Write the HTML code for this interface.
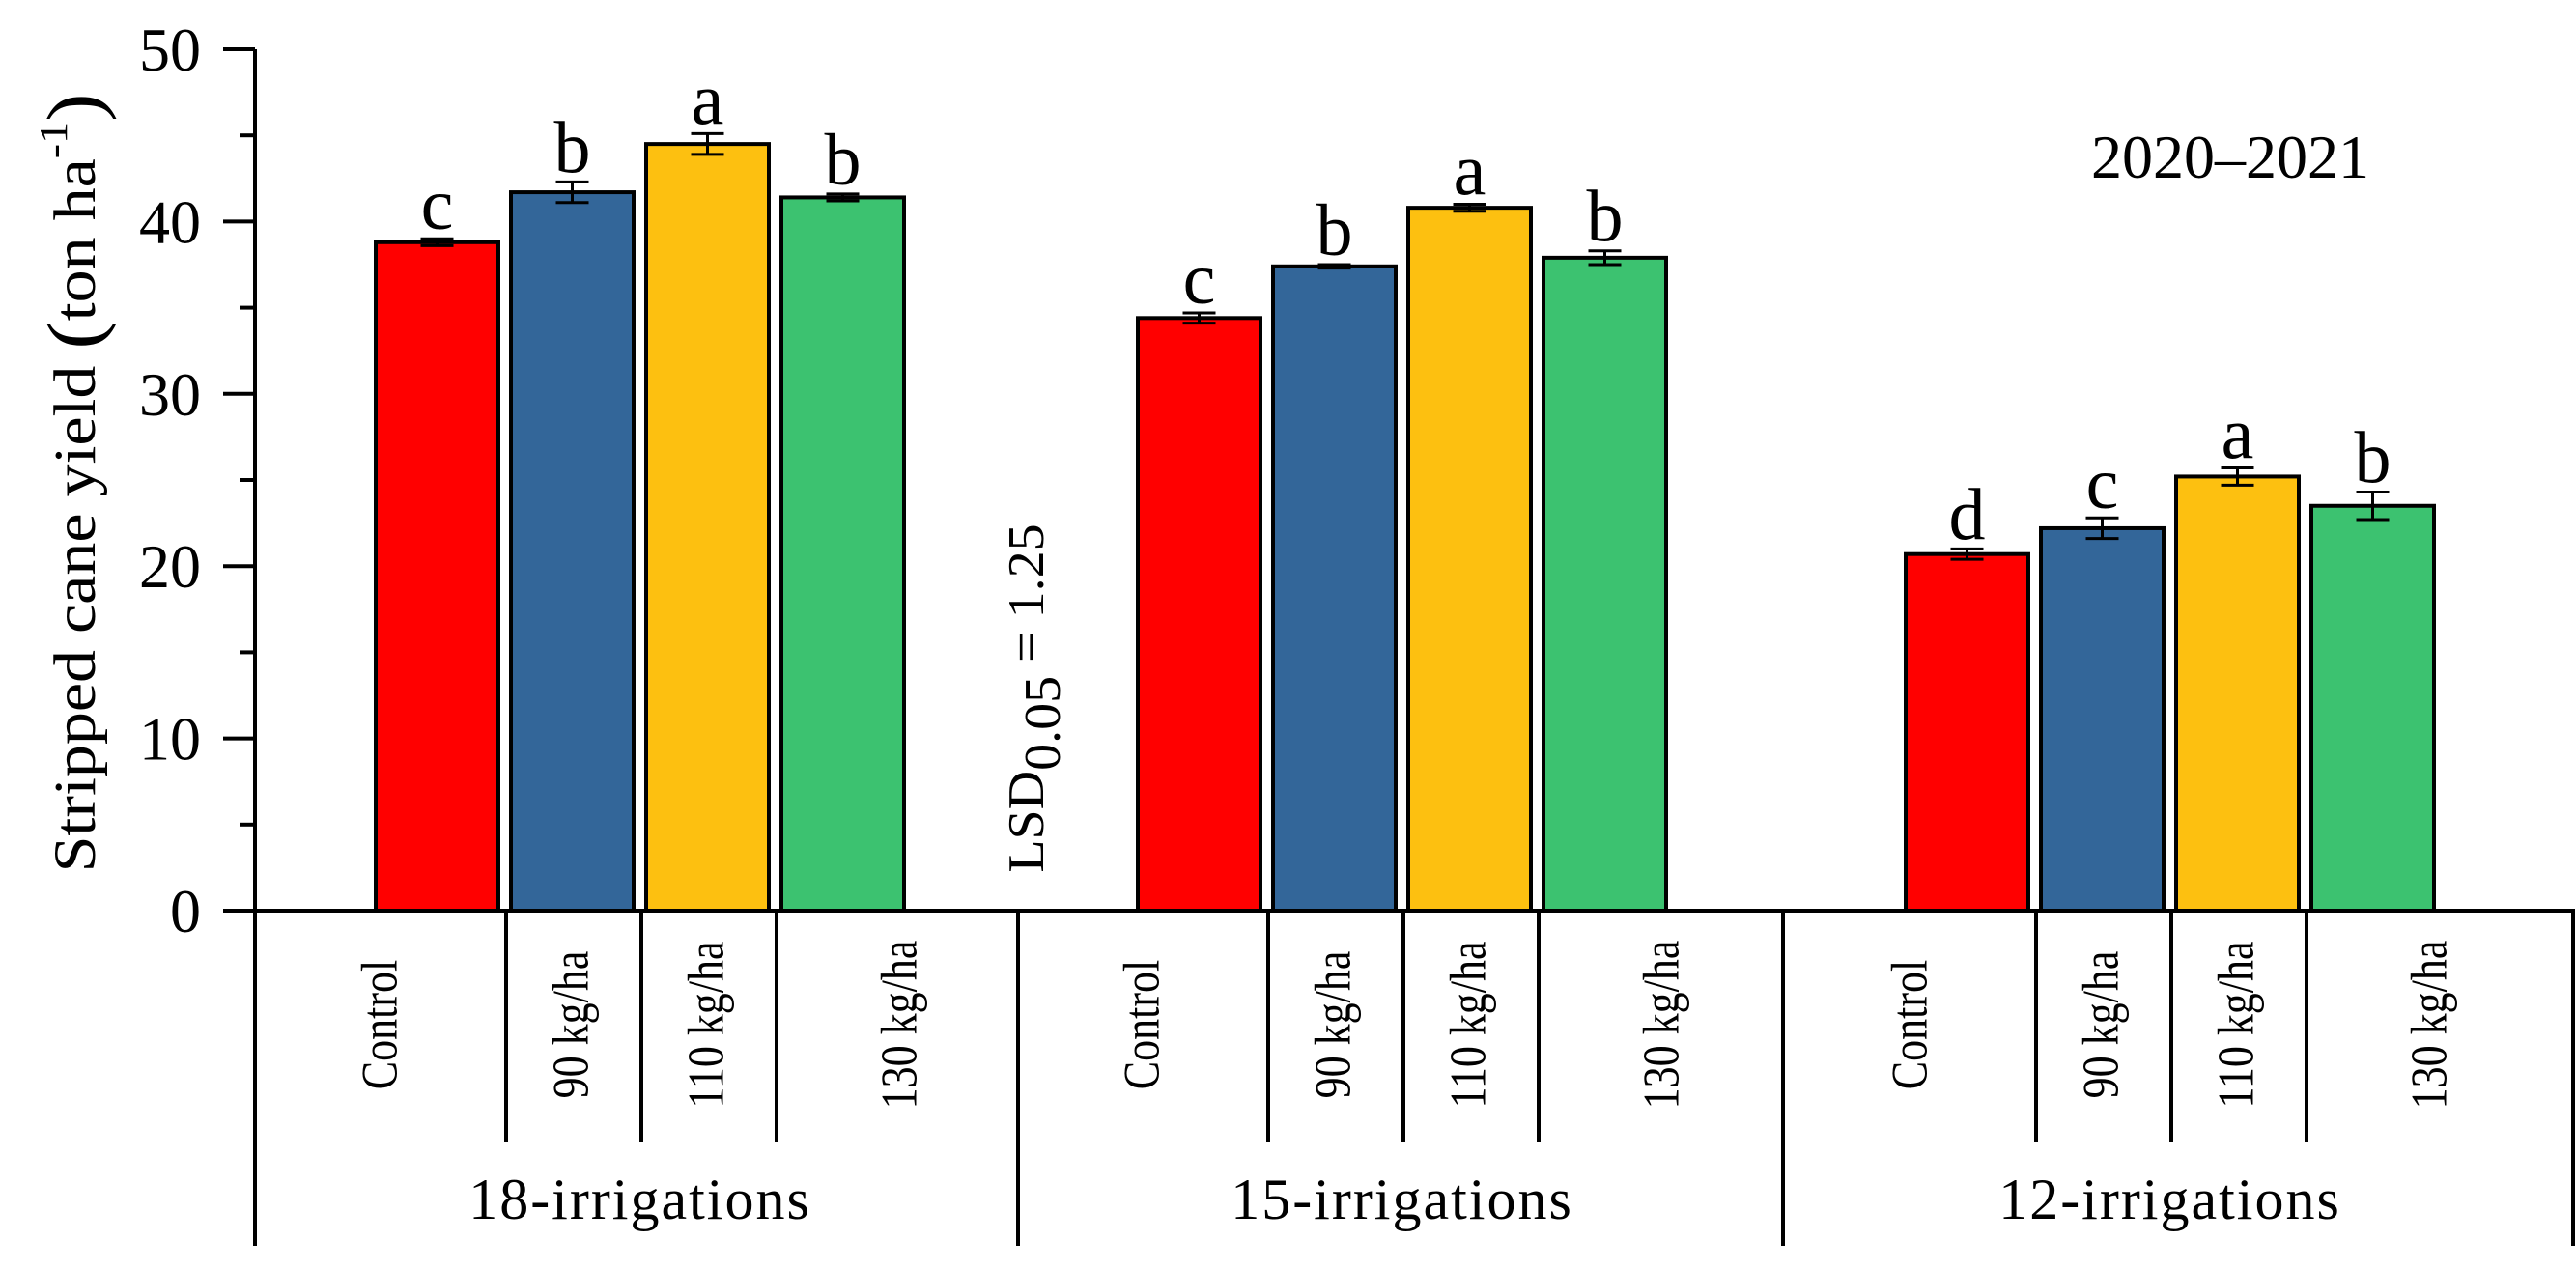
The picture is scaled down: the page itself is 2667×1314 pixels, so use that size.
<!DOCTYPE html>
<html><head><meta charset="utf-8"><style>
html,body{margin:0;padding:0;background:#fff;}
svg{display:block;font-family:"Liberation Serif",serif;}
</style></head><body>
<svg id="chart" width="2667" height="1314" viewBox="0 0 2667 1314" xmlns="http://www.w3.org/2000/svg">
<g id="axes"></g>
<g id="bars"></g>
<g id="labels"></g>
<text transform="translate(98,500) rotate(-90) scale(1,0.9)" text-anchor="middle" font-size="68" fill="#000">Stripped cane yield <tspan font-size="88" dy="6">(</tspan><tspan dy="-6">ton ha</tspan><tspan font-size="46" dy="-32">-1</tspan><tspan font-size="88" dy="38">)</tspan></text>
<text x="2309" y="184" text-anchor="middle" font-size="64" fill="#000">2020–2021</text>
<text transform="translate(1080,723) rotate(-90) scale(1,0.95)" text-anchor="middle" font-size="56" fill="#000">LSD<tspan font-size="56" dy="18">0.05</tspan><tspan dy="-18"> = 1.25</tspan></text>
</svg>
<script>
const groups = ["18-irrigations","15-irrigations","12-irrigations"];
const treatments = ["Control","90 kg/ha","110 kg/ha","130 kg/ha"];
const values = [[38.8,41.7,44.5,41.4],[34.4,37.4,40.8,37.9],[20.7,22.2,25.2,23.5]];
const errors = [[0.2,0.6,0.6,0.2],[0.3,0.1,0.2,0.4],[0.3,0.6,0.5,0.8]];
const letters = [["c","b","a","b"],["c","b","a","b"],["d","c","a","b"]];
const yTicks = [0,10,20,30,40,50];
const colors = ["#ff0000","#336699","#fdc010","#3cc270"];

const NS="http://www.w3.org/2000/svg";
const y0=943, yTop=51, yMax=50;
function y(v){return y0-(v/yMax)*(y0-yTop);}
const groupStart=[389,1178,1973], barPitch=140, barW=127;
function barX(g,i){return groupStart[g]+i*barPitch;}
function mk(tag,attrs,parent){const e=document.createElementNS(NS,tag);for(const k in attrs)e.setAttribute(k,attrs[k]);parent.appendChild(e);return e;}
const axes=document.getElementById('axes'), bars=document.getElementById('bars'), labels=document.getElementById('labels');

let l=mk('line',{x1:264,y1:y(yMax),x2:264,y2:1290,stroke:'#000','stroke-width':4},axes);


l=mk('line',{x1:231,y1:y0,x2:2666,y2:y0,stroke:'#000','stroke-width':4},axes);


yTicks.forEach(t=>{
  let tk=mk('line',{x1:231,y1:y(t),x2:264,y2:y(t),stroke:'#000','stroke-width':4},axes);
  
  
  let tx=mk('text',{x:208,y:y(t)+22,'text-anchor':'end','font-size':64},axes);
  tx.textContent=t;
  
  
  if(t<yMax){
    let m=mk('line',{x1:248,y1:y(t+5),x2:264,y2:y(t+5),stroke:'#000','stroke-width':4},axes);
    
    
  }
});
[1054,1846,2664].forEach(x=>{
  let s=mk('line',{x1:x,y1:y0,x2:x,y2:1290,stroke:'#000','stroke-width':4},axes);
  
  
});
const labelOffset=[-58,0,0,60];
groups.forEach((gname,g)=>{
  values[g].forEach((v,i)=>{
    const x=barX(g,i);
    let r=mk('rect',{x:x,y:y(v),width:barW,height:y0-y(v),fill:colors[i],stroke:'#000','stroke-width':4},bars);
    
    
    const cx=x+barW/2, e=errors[g][i];
    const eg=mk('g',{stroke:'#000','stroke-width':3},bars);
    
    
    mk('line',{x1:cx,y1:y(v+e),x2:cx,y2:y(v-e)},eg);
    mk('line',{x1:cx-17,y1:y(v+e),x2:cx+17,y2:y(v+e)},eg);
    mk('line',{x1:cx-17,y1:y(v-e),x2:cx+17,y2:y(v-e)},eg);
    let lt=mk('text',{x:cx,y:y(v+e)-10,'text-anchor':'middle','font-size':76},labels);
    lt.textContent=letters[g][i];
    
    
    if(i>0){
      let d=mk('line',{x1:x-5,y1:y0,x2:x-5,y2:1183,stroke:'#000','stroke-width':4},axes);
      
      
    }
    const lx=cx+labelOffset[i]+16;
    let ct=mk('text',{transform:'translate('+lx+',1061) rotate(-90) scale(1,1.2)','text-anchor':'middle','font-size':44},labels);
    ct.textContent=treatments[i];
    
    
  });
  const gc=(barX(g,0)+barX(g,3)+barW)/2;
  let gt=mk('text',{x:gc,y:1262,'text-anchor':'middle','font-size':60,'letter-spacing':2},labels);
  gt.textContent=gname;
  
  
});
</script>
</body></html>
